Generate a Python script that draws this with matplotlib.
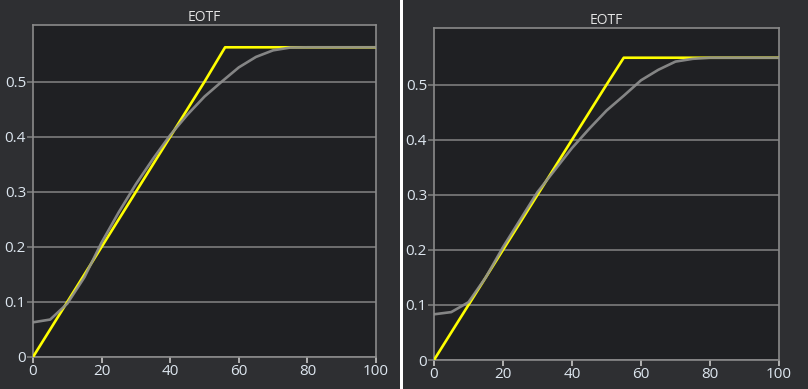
import matplotlib

matplotlib.use("Agg")
import matplotlib.pyplot as plt
from matplotlib.patches import Rectangle

# stimulus level (%) and measured / target luminance for the two displays
x_pts = [0, 5, 10, 15, 20, 25, 30, 35, 40, 45, 50, 55, 60, 65, 70, 75, 80, 85, 90, 95, 100]

left_target_x = [0, 5, 10, 15, 20, 25, 30, 35, 40, 45, 50, 56, 60, 70, 80, 90, 100]
left_target = [0, 0.05, 0.1, 0.15, 0.2, 0.25, 0.3, 0.35, 0.4, 0.45, 0.5, 0.5625,
               0.5625, 0.5625, 0.5625, 0.5625, 0.5625]
left_measured = [0.063, 0.068, 0.097, 0.145, 0.208, 0.263, 0.314, 0.36, 0.403, 0.44,
                 0.473, 0.5, 0.526, 0.545, 0.557, 0.562, 0.5625, 0.5625, 0.5625,
                 0.5625, 0.5625]

right_target_x = [0, 5, 10, 15, 20, 25, 30, 35, 40, 45, 50, 55, 60, 70, 80, 90, 100]
right_target = [0, 0.05, 0.1, 0.15, 0.2, 0.25, 0.3, 0.35, 0.4, 0.45, 0.5, 0.549,
                0.549, 0.549, 0.549, 0.549, 0.549]
right_measured = [0.083, 0.087, 0.105, 0.15, 0.205, 0.255, 0.305, 0.345, 0.385, 0.42,
                  0.453, 0.48, 0.508, 0.527, 0.542, 0.547, 0.549, 0.549, 0.549,
                  0.549, 0.549]

x_ticks = [0, 20, 40, 60, 80, 100]
y_ticks = [0, 0.1, 0.2, 0.3, 0.4, 0.5]
y_labels = ["0", "0.1", "0.2", "0.3", "0.4", "0.5"]

FIG_BG = "#2e2f32"
AX_BG = "#1f2023"
GRID = "#7c7c7c"
TEXT = "#dde6ef"
W, H = 808, 389

plt.rcParams["font.family"] = ["Open Sans", "DejaVu Sans"]

fig = plt.figure(figsize=(W / 100, H / 100), dpi=100, facecolor=FIG_BG)


def px_axes(x0, y0, x1, y1):
    return fig.add_axes([x0 / W, 1 - y1 / H, (x1 - x0) / W, (y1 - y0) / H])


def draw_panel(ax, tx, ty, mx, my):
    ax.set_facecolor(AX_BG)
    ax.plot(tx, ty, color="#ffff00", linewidth=1.9, zorder=3, solid_joinstyle="round")
    ax.plot(mx, my, color="#8e8e8e", linewidth=1.9, alpha=0.92, zorder=4,
            solid_joinstyle="round")
    ax.set_xlim(0, 100)
    ax.set_ylim(0, 0.603)
    ax.set_xticks(x_ticks)
    ax.set_yticks(y_ticks)
    ax.set_yticklabels(y_labels)
    ax.grid(True, axis="y", color=GRID, linewidth=1.2, zorder=1)
    ax.tick_params(axis="y", length=4, width=1.2, color=GRID, pad=1,
                   labelsize=11, labelcolor=TEXT)
    ax.tick_params(axis="x", length=4, width=1.2, color="#c8c8c8", pad=1,
                   labelsize=11, labelcolor=TEXT)
    for spine in ax.spines.values():
        spine.set_color("#8a8a8a")
        spine.set_linewidth(1.2)
    ax.set_title("EOTF", color="#e4e4e4", fontsize=10, pad=3)


ax_l = px_axes(33, 25, 376, 357)
draw_panel(ax_l, left_target_x, left_target, x_pts, left_measured)

ax_r = px_axes(434, 28, 779, 360)
draw_panel(ax_r, right_target_x, right_target, x_pts, right_measured)

# white divider between the two screenshots
fig.add_artist(Rectangle((400 / W, 0), 3 / W, 1, transform=fig.transFigure,
                         facecolor="white", edgecolor="none"))

fig.savefig("out.png", dpi=100, facecolor=FIG_BG)
